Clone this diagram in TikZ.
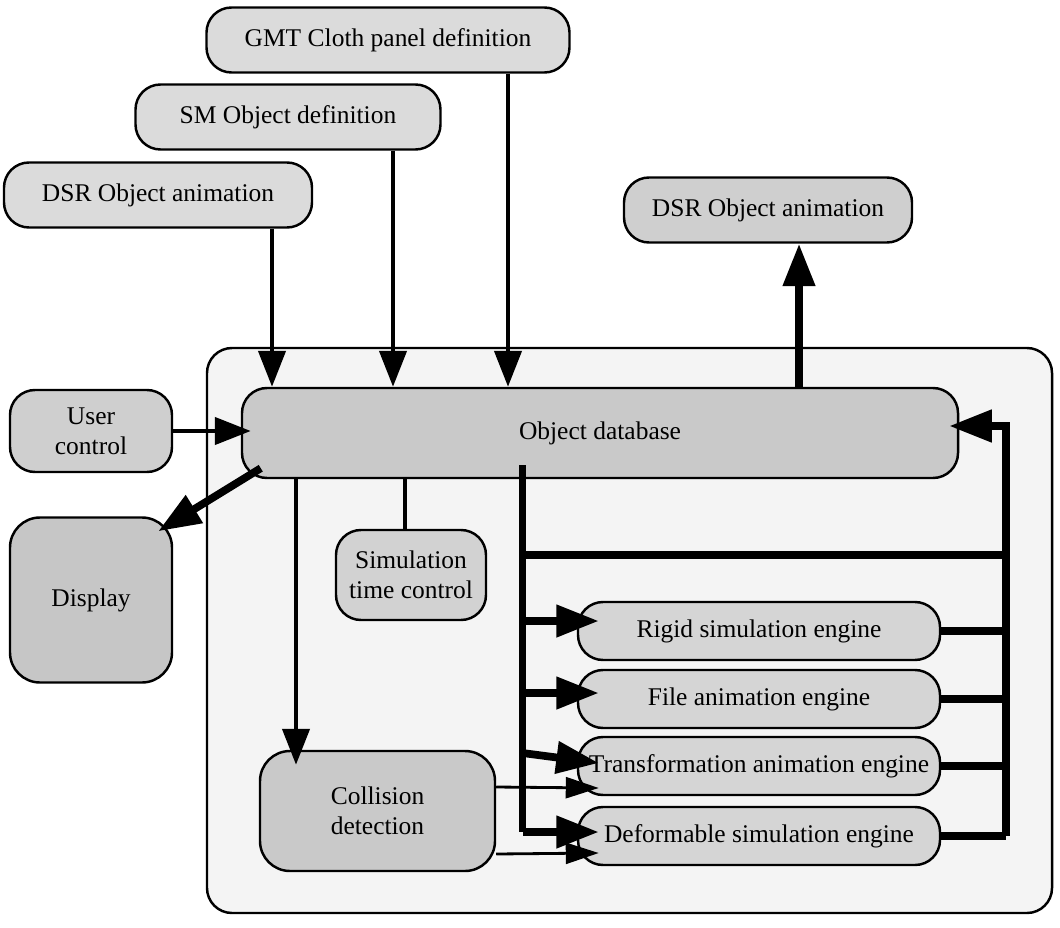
\documentclass[tikz,border=0pt]{standalone}
\usepackage{fontspec}
\setmainfont{Liberation Serif}
\usepackage{tikz}
\usetikzlibrary{arrows.meta,calc,positioning}

\begin{document}
\begin{tikzpicture}[
    font=\fontsize{14.5}{17}\selectfont,
    box/.style={draw,line width=1.4pt,rounded corners=0.5cm,align=center,inner sep=0pt,fill=gray!28},
    engine/.style={box,fill=gray!33,minimum width=7.24cm,minimum height=1.16cm},
    feed/.style={line width=2.5pt,-{Triangle[length=0.72cm,width=0.54cm]}},
    fat/.style={line width=4.4pt,-{Triangle[length=0.85cm,width=0.62cm]}},
    slim/.style={line width=1.6pt,-{Triangle[length=0.66cm,width=0.42cm]}},
    busline/.style={line width=4.4pt,line join=miter}
  ]
  \useasboundingbox (0,0) rectangle (21.2,-18.54);
  % system frame
  \draw[line width=1.4pt,rounded corners=0.5cm,fill=gray!9] (4.14,-6.96) rectangle (21.04,-18.26);

  % external inputs and outputs
  \node[box,minimum width=7.26cm,minimum height=1.3cm] (gmt) at (7.76,-0.80) {GMT Cloth panel definition};
  \node[box,minimum width=6.10cm,minimum height=1.3cm] (sm) at (5.76,-2.34) {SM Object definition};
  \node[box,minimum width=6.16cm,minimum height=1.3cm] (dsrin) at (3.16,-3.90) {DSR Object animation};
  \node[box,fill=gray!38,minimum width=5.76cm,minimum height=1.3cm] (dsrout) at (15.36,-4.20) {DSR Object animation};
  \node[box,fill=gray!38,minimum width=3.24cm,minimum height=1.64cm] (user) at (1.82,-8.62) {User\\control};
  \node[box,fill=gray!45,minimum width=3.24cm,minimum height=3.30cm,rounded corners=0.6cm] (display) at (1.82,-12.00) {Display};

  % inside the system
  \node[box,fill=gray!42,minimum width=14.32cm,minimum height=1.80cm] (db) at (12.00,-8.66) {Object database};
  \node[box,fill=gray!35,minimum width=3.00cm,minimum height=1.80cm] (simtime) at (8.22,-11.50) {Simulation\\time control};
  \node[box,fill=gray!42,minimum width=4.70cm,minimum height=2.40cm,rounded corners=0.6cm] (collision) at (7.55,-16.22) {Collision\\detection};
  \node[engine] (rigid) at (15.18,-12.62) {Rigid simulation engine};
  \node[engine] (file) at (15.18,-13.98) {File animation engine};
  \node[engine] (trans) at (15.18,-15.32) {Transformation animation engine};
  \node[engine] (deform) at (15.18,-16.72) {Deformable simulation engine};

  % feeds into the database
  \draw[feed] ([xshift=2.40cm]gmt.south) -- ([xshift=2.40cm]gmt.south |- db.north);
  \draw[feed] ([xshift=2.10cm]sm.south) -- ([xshift=2.10cm]sm.south |- db.north);
  \draw[feed] ([xshift=2.28cm]dsrin.south) -- ([xshift=2.28cm]dsrin.south |- db.north);
  \draw[feed] (user.east) -- ([xshift=0.2cm]user.east -| db.west);
  \draw[fat] ([xshift=0.62cm]dsrout.south |- db.north) -- ([xshift=0.62cm]dsrout.south);
  \draw[fat] ([shift={(0.4cm,0.22cm)}]db.south west) -- ([shift={(-0.3cm,-0.3cm)}]display.north east);
  \draw[feed] ([xshift=-1.63cm]collision.north |- db.south) -- ([shift={(-1.63cm,-0.3cm)}]collision.north);
  \draw[line width=2.5pt] ([xshift=-0.12cm]simtime.north |- db.south) -- ([xshift=-0.12cm]simtime.north);

  % engine buses
  \coordinate (busl) at (10.45,-9.30);
  \coordinate (busb) at (10.45,-16.64);
  \coordinate (cross) at (10.45,-11.10);
  \coordinate (rtop) at (20.12,-8.52);
  \coordinate (rbot) at (20.12,-16.72);
  \draw[busline] (busl) -- (busb);
  \draw[busline] (cross) -- (cross -| rtop);
  \draw[busline,-{Triangle[length=0.85cm,width=0.62cm]}] (rbot) -- (rtop) -- ([xshift=-0.2cm]rtop -| db.east);
  \foreach \e in {rigid,file,trans,deform}
    \draw[busline] (\e.east) -- (\e.east -| rtop);
  \draw[fat] ([yshift=0.2cm]rigid.west -| busl) -- ([shift={(0.44cm,0.2cm)}]rigid.west);
  \draw[fat] ([yshift=0.12cm]file.west -| busl) -- ([shift={(0.44cm,0.12cm)}]file.west);
  \draw[fat] ([yshift=0.26cm]trans.west -| busl) -- ([shift={(0.44cm,0.06cm)}]trans.west);
  \draw[fat] (busb) -- ([xshift=0.44cm]busb -| deform.west);

  % collision results
  \draw[slim] ([yshift=0.48cm]collision.east) -- ([shift={(0.44cm,-0.44cm)}]trans.west);
  \draw[slim] ([yshift=-0.86cm]collision.east) -- ([shift={(0.44cm,-0.34cm)}]deform.west);
\end{tikzpicture}
\end{document}
